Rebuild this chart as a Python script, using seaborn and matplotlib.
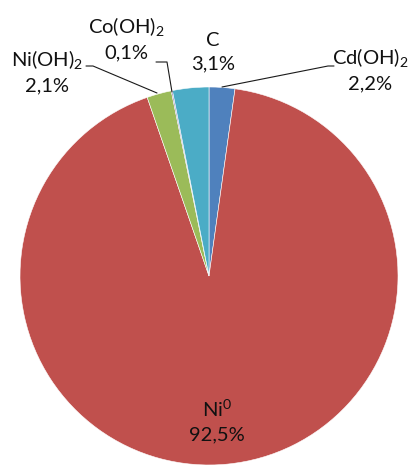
import matplotlib
matplotlib.use("Agg")
import matplotlib.pyplot as plt
import seaborn as sns

# Composition data (share in %)
components = ["Cd(OH)$_2$", "Ni$^0$", "Ni(OH)$_2$", "Co(OH)$_2$", "C"]
shares = [2.2, 92.5, 2.1, 0.1, 3.1]
colors = ["#4F81BD", "#C0504D", "#9BBB59", "#8064A2", "#4BACC6"]

sns.set_theme(style="white")
plt.rcParams["font.family"] = ["Lato", "DejaVu Sans"]
plt.rcParams["mathtext.fontset"] = "custom"
plt.rcParams["mathtext.rm"] = "Lato"
plt.rcParams["mathtext.it"] = "Lato"
plt.rcParams["mathtext.default"] = "rm"

W, H = 409, 466
cx, cy, r = 209, 276, 189
fig = plt.figure(figsize=(W / 100, H / 100), dpi=100)
ax = fig.add_axes([(cx - r) / W, (H - cy - r) / H, 2 * r / W, 2 * r / H])

ax.pie(shares, colors=colors, startangle=90, counterclock=False,
       wedgeprops=dict(linewidth=0.4, edgecolor="white"))
ax.set_xlim(-1, 1)
ax.set_ylim(-1, 1)
ax.axis("off")


def to_data(px, py):
    return (px - cx) / r, (cy - py) / r


def fmt(v):
    return f"{v:.1f}".replace(".", ",") + "%"


# label centre (px), leader line points (px)
layout = {
    "Cd(OH)$_2$": ((370, 69), [(222, 87), (328, 66), (334, 66)]),
    "Ni$^0$": ((217, 421), None),
    "Ni(OH)$_2$": ((47, 71), [(86, 66), (93, 66), (157, 93)]),
    "Co(OH)$_2$": ((126, 38), [(156, 62), (167, 62), (172, 92)]),
    "C": ((213, 52), None),
}

for name, v in zip(components, shares):
    (tx, ty), line = layout[name]
    x, y = to_data(tx, ty)
    ax.text(x, y, f"{name}\n{fmt(v)}", ha="center", va="center",
            fontsize=14.5, color="#111111", linespacing=1.45, clip_on=False)
    if line:
        xs, ys = zip(*[to_data(px, py) for px, py in line])
        ax.plot(xs, ys, color="#1a1a1a", lw=0.8, clip_on=False)

fig.savefig("out.png", dpi=100)
